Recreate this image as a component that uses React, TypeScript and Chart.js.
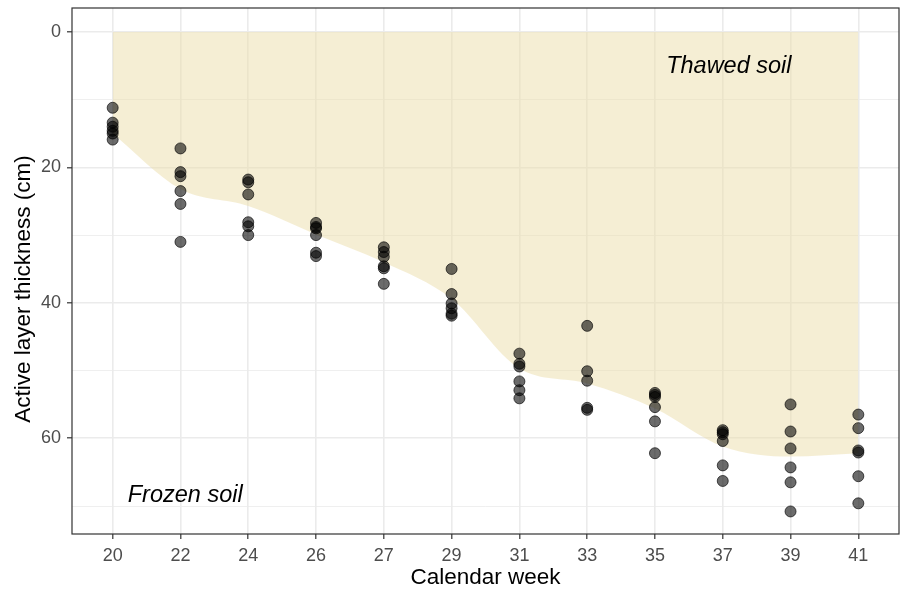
import React, { useEffect, useRef } from "react";
import { Chart, registerables } from "chart.js";

Chart.register(...registerables);

const weeks: string[] = ["20", "22", "24", "26", "27", "29", "31", "33", "35", "37", "39", "41"];

const wk20: number[] = [11.2, 13.4, 14.0, 14.6, 15.0, 15.9];
const wk22: number[] = [17.2, 20.7, 21.3, 23.5, 25.4, 31.0];
const wk24: number[] = [21.8, 22.2, 24.0, 28.1, 28.7, 30.0];
const wk26: number[] = [28.2, 28.8, 29.0, 30.0, 32.6, 33.1];
const wk27: number[] = [31.8, 32.5, 33.2, 34.6, 34.9, 37.2];
const wk29: number[] = [35.0, 38.7, 40.1, 40.8, 41.6, 41.9];
const wk31: number[] = [47.5, 49.0, 49.4, 51.6, 52.9, 54.1];
const wk33: number[] = [43.4, 50.1, 51.5, 55.5, 55.8];
const wk35: number[] = [53.3, 53.6, 53.9, 55.4, 57.5, 62.2];
const wk37: number[] = [58.8, 59.1, 59.4, 60.4, 64.0, 66.3];
const wk39: number[] = [55.0, 59.0, 61.5, 64.3, 66.5, 70.8];
const wk41: number[] = [56.5, 58.5, 61.8, 62.1, 65.6, 69.6];

// Lower boundary of the "thawed soil" area (cm), one per week
const thawBoundary: number[] = [15.0, 23.2, 25.7, 29.9, 34.0, 39.4, 49.7, 51.9, 55.6, 61.2, 62.7, 62.2];
const surface: number[] = [0, 0, 0, 0, 0, 0, 0, 0, 0, 0, 0, 0];

const yTicks: number[] = [0, 10, 20, 30, 40, 50, 60, 70];

const groups: number[][] = [wk20, wk22, wk24, wk26, wk27, wk29, wk31, wk33, wk35, wk37, wk39, wk41];

export default function App() {
  const ref = useRef<HTMLCanvasElement | null>(null);

  useEffect(() => {
    document.body.style.margin = "0";
    const canvas = ref.current;
    if (!canvas) return;

    const points: { x: number; y: number }[] = [];
    groups.forEach((g, i) => g.forEach((v) => points.push({ x: i, y: v })));

    const font = "'Liberation Sans', Arial, sans-serif";

    const overlay = {
      id: "overlay",
      afterDatasetsDraw(chart: any) {
        const { ctx, scales } = chart;
        const xs = scales.x;
        const ys = scales.y;
        ctx.save();
        ctx.fillStyle = "#000000";
        ctx.font = `italic 23.5px ${font}`;
        ctx.textAlign = "center";
        ctx.textBaseline = "middle";
        ctx.fillText("Thawed soil", xs.getPixelForValue(9.09), ys.getPixelForValue(5.1));
        ctx.fillText("Frozen soil", xs.getPixelForValue(1.07), ys.getPixelForValue(68.4));
        ctx.restore();
      },
      afterDraw(chart: any) {
        const { ctx, chartArea } = chart;
        ctx.save();
        ctx.strokeStyle = "#333333";
        ctx.lineWidth = 1.2;
        ctx.strokeRect(chartArea.left, chartArea.top, chartArea.right - chartArea.left, chartArea.bottom - chartArea.top);
        // y axis title
        ctx.translate(24, 289);
        ctx.rotate(-Math.PI / 2);
        ctx.fillStyle = "#000000";
        ctx.font = `22.5px ${font}`;
        ctx.textAlign = "center";
        ctx.textBaseline = "middle";
        ctx.fillText("Active layer thickness (cm)", 0, 0);
        ctx.restore();
      },
    };

    const chart = new Chart(canvas, {
      type: "scatter",
      data: {
        datasets: [
          {
            data: surface.map((v, i) => ({ x: i, y: v })),
            showLine: true,
            borderWidth: 0,
            borderColor: "rgba(0,0,0,0)",
            pointRadius: 0,
            fill: false,
            order: 2,
          },
          {
            data: thawBoundary.map((v, i) => ({ x: i, y: v })),
            showLine: true,
            borderWidth: 0,
            borderColor: "rgba(0,0,0,0)",
            backgroundColor: "rgba(235,222,170,0.5)",
            pointRadius: 0,
            cubicInterpolationMode: "monotone",
            fill: 0,
            order: 2,
          },
          {
            data: points,
            pointRadius: 5.5,
            pointBackgroundColor: "rgba(0,0,0,0.58)",
            pointBorderColor: "rgba(0,0,0,0.65)",
            pointBorderWidth: 1,
            order: 0,
          },
        ],
      } as any,
      options: {
        animation: false,
        responsive: false,
        devicePixelRatio: 1,
        layout: { padding: { left: 0, right: 7, top: 8, bottom: 0 } },
        plugins: { legend: { display: false }, tooltip: { enabled: false } },
        scales: {
          x: {
            type: "linear",
            min: -0.6,
            max: 11.6,
            afterBuildTicks: (scale: any) => {
              scale.ticks = weeks.map((_, i) => ({ value: i }));
            },
            afterFit: (scale: any) => {
              scale.height = 62;
              scale.paddingLeft = 0;
              scale.paddingRight = 0;
            },
            ticks: {
              autoSkip: false,
              maxRotation: 0,
              padding: 6,
              color: "#4D4D4D",
              font: { family: font, size: 18 },
              callback: (v: any) => weeks[Math.round(Number(v))] ?? "",
            },
            grid: {
              color: "#EBEBEB",
              lineWidth: 1.6,
              tickColor: "#333333",
              tickLength: 5,
              tickWidth: 1.2,
            },
            border: { display: false },
            title: {
              display: true,
              text: "Calendar week",
              color: "#000000",
              font: { family: font, size: 22.5 },
              padding: { top: 0, bottom: 5 },
            },
          },
          y: {
            type: "linear",
            reverse: true,
            min: -3.53,
            max: 74.13,
            afterBuildTicks: (scale: any) => {
              scale.ticks = yTicks.map((v) => ({ value: v }));
            },
            afterFit: (scale: any) => {
              scale.width = 72;
              scale.paddingTop = 0;
              scale.paddingBottom = 0;
            },
            ticks: {
              padding: 6,
              color: "#4D4D4D",
              font: { family: font, size: 18 },
              callback: (v: any) => (Number(v) % 20 === 0 ? String(v) : ""),
            },
            grid: {
              color: "#EBEBEB",
              lineWidth: (c: any) => (c.tick && c.tick.value % 20 === 0 ? 1.6 : 0.8),
              tickColor: (c: any) => (c.tick && c.tick.value % 20 === 0 ? "#333333" : "rgba(0,0,0,0)"),
              tickLength: 5,
              tickWidth: 1.2,
            },
            border: { display: false },
            title: { display: false },
          },
        },
      } as any,
      plugins: [overlay],
    });

    return () => chart.destroy();
  }, []);

  return (
    <div style={{ width: 906, height: 596 }}>
      <canvas ref={ref} width={906} height={596} style={{ display: "block" }} />
    </div>
  );
}
